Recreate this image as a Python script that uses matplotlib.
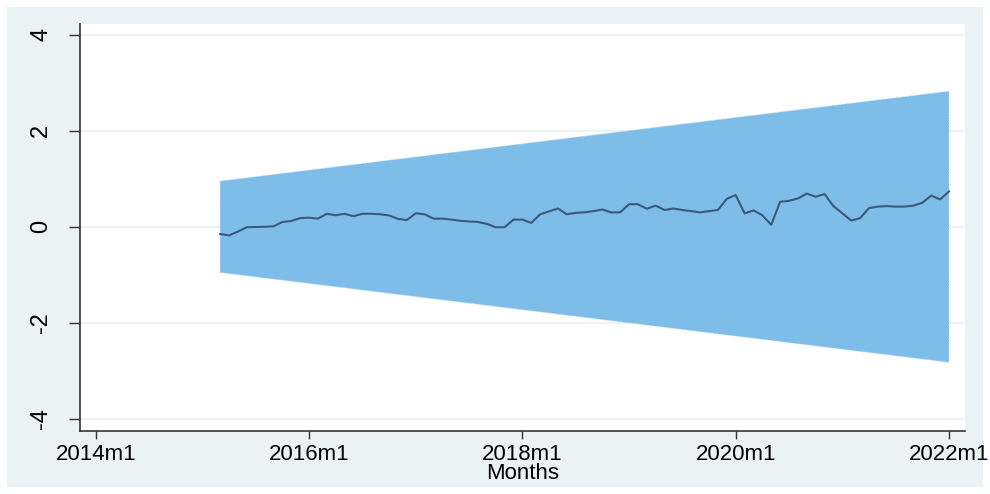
import numpy as np
import matplotlib
matplotlib.use("Agg")
import matplotlib.pyplot as plt
from matplotlib.patches import Rectangle

plt.rcParams['font.family'] = ['Liberation Sans', 'DejaVu Sans']

# months counted from 2014m1 (= 0)
tick_months = [0, 24, 48, 72, 96]
tick_labels = ["2014m1", "2016m1", "2018m1", "2020m1", "2022m1"]
y_ticks = [-4, -2, 0, 2, 4]

# series, 2015m3 .. 2022m1
series_start = 14
series = [
    -0.15, -0.18, -0.10, -0.01, -0.005, 0.00, 0.01, 0.10, 0.12, 0.18,
    0.19, 0.17, 0.27, 0.24, 0.27, 0.22, 0.27, 0.27, 0.26, 0.235,
    0.165, 0.14, 0.28, 0.26, 0.17, 0.17, 0.15, 0.125, 0.11, 0.10,
    0.06, -0.01, -0.01, 0.15, 0.15, 0.08, 0.26, 0.32, 0.38, 0.26,
    0.29, 0.30, 0.325, 0.36, 0.30, 0.30, 0.47, 0.47, 0.375, 0.44,
    0.35, 0.38, 0.35, 0.325, 0.30, 0.325, 0.35, 0.58, 0.66, 0.28,
    0.34, 0.24, 0.04, 0.52, 0.54, 0.59, 0.69, 0.625, 0.68, 0.43,
    0.28, 0.13, 0.18, 0.39, 0.42, 0.43, 0.42, 0.42, 0.44, 0.50,
    0.65, 0.57, 0.735,
]

# confidence band edges at first and last month
band_months = [14, 96]
band_upper = [0.95, 2.82]
band_lower = [-0.95, -2.82]

W, H = 990, 494
fig = plt.figure(figsize=(W / 100, H / 100), dpi=100, facecolor="white")
fig.add_artist(Rectangle((7 / W, 7 / H), 976 / W, 480 / H, transform=fig.transFigure,
                         facecolor="#eaf2f3", edgecolor="none", zorder=0))

ax = fig.add_axes([80 / W, (H - 431) / H, 885 / W, 407 / H])
ax.set_facecolor("white")

months = np.arange(series_start, series_start + len(series))

ax.fill_between(band_months, band_lower, band_upper, facecolor="#7ebde8",
                edgecolor="#a9d2f0", linestyle=":", linewidth=0.8, zorder=2)
ax.plot(months, series, color="#3a5a78", linewidth=1.5, zorder=3)

ax.set_xlim(-1.77, 97.8)
ax.set_ylim(-4.25, 4.22)

ax.set_xticks(tick_months)
ax.set_xticklabels(tick_labels)
ax.set_yticks(y_ticks)
ax.set_yticklabels([str(v) for v in y_ticks], rotation=90, va="center")

ax.tick_params(axis="x", length=6, width=1, pad=3, labelsize=16, color="#333333")
ax.tick_params(axis="y", length=8, width=1, pad=12, labelsize=17, color="#333333")

ax.grid(axis="y", color="#eaf2f3", linewidth=1.2, zorder=1)
ax.set_axisbelow(True)

for side in ["top", "right"]:
    ax.spines[side].set_visible(False)
for side in ["left", "bottom"]:
    ax.spines[side].set_color("#333333")
    ax.spines[side].set_linewidth(1.2)

ax.set_xlabel("Months", fontsize=16, labelpad=-1)

fig.savefig("out.png", dpi=100, facecolor="white")
